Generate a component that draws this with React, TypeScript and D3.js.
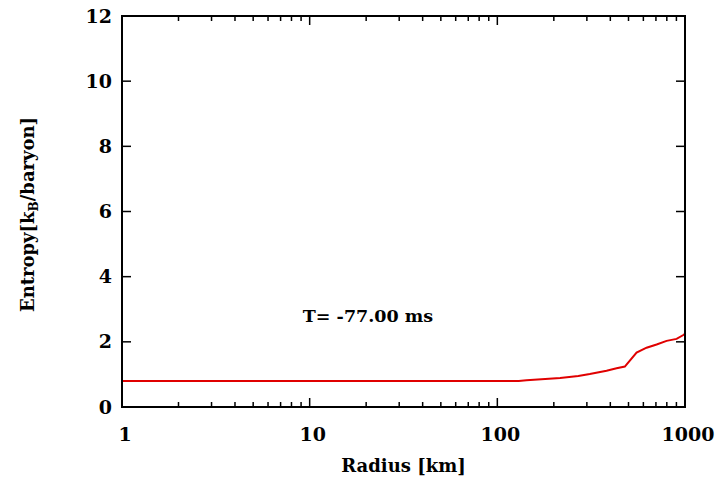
import React from "react";
import * as d3 from "d3";

const radius = [1, 10, 100, 130, 143, 216, 270, 311, 382, 432, 478, 552, 624, 706, 798, 902, 980, 1000];
const entropy = [0.8, 0.8, 0.8, 0.8, 0.82, 0.89, 0.95, 1.01, 1.11, 1.19, 1.24, 1.67, 1.82, 1.92, 2.03, 2.09, 2.21, 2.25];
const xTicks = [1, 10, 100, 1000];
const yTicks = [0, 2, 4, 6, 8, 10, 12];
const label = "T= -77.00 ms";

const W = 726, H = 486;
const L = 122, R = 685, T = 16, B = 407;
const FONT = "'DejaVu Serif', serif";

export default function App() {
  const x = d3.scaleLog().domain([1, 1000]).range([L, R]);
  const y = d3.scaleLinear().domain([0, 12]).range([B, T]);
  const minor: number[] = [];
  for (let d = 1; d < 1000; d *= 10) for (let k = 2; k <= 9; k++) minor.push(d * k);
  const line = d3.line<number>().x((_, i) => x(radius[i])).y((v) => y(v));
  return (
    <svg width={W} height={H} style={{ position: "absolute", left: 0, top: 0, background: "#fff" }}>
      <g stroke="#000" strokeWidth={1.5}>
        {minor.map((m) => (
          <g key={"m" + m}>
            <line x1={x(m)} x2={x(m)} y1={B} y2={B - 5} />
            <line x1={x(m)} x2={x(m)} y1={T} y2={T + 5} />
          </g>
        ))}
        {xTicks.map((m) => (
          <g key={"M" + m}>
            <line x1={x(m)} x2={x(m)} y1={B} y2={B - 9} />
            <line x1={x(m)} x2={x(m)} y1={T} y2={T + 9} />
          </g>
        ))}
        {yTicks.map((v) => (
          <g key={"y" + v}>
            <line x1={L} x2={L + 9} y1={y(v)} y2={y(v)} />
            <line x1={R} x2={R - 9} y1={y(v)} y2={y(v)} />
          </g>
        ))}
      </g>
      <path d={line(entropy) || ""} fill="none" stroke="#e00000" strokeWidth={2} />
      <rect x={L} y={T} width={R - L} height={B - T} fill="none" stroke="#000" strokeWidth={2} />
      <g fontFamily={FONT} fontWeight="bold" fill="#000">
        {yTicks.map((v) => (
          <text key={"yl" + v} x={L - 10} y={y(v)} dy="0.35em" textAnchor="end" fontSize={19}>{v}</text>
        ))}
        {xTicks.map((v) => (
          <text key={"xl" + v} x={x(v) + 3} y={B + 34} textAnchor="middle" fontSize={19}>{v}</text>
        ))}
        <text x={(L + R) / 2} y={472} textAnchor="middle" fontSize={18}>Radius [km]</text>
        <text transform={`translate(34,${(T + B) / 2 + 3}) rotate(-90)`} textAnchor="middle" fontSize={18}>
          Entropy[k<tspan fontSize={12} dy={4}>B</tspan><tspan dy={-4}>/baryon]</tspan>
        </text>
        <text x={368} y={322} textAnchor="middle" fontSize={17.5}>{label}</text>
      </g>
    </svg>
  );
}
